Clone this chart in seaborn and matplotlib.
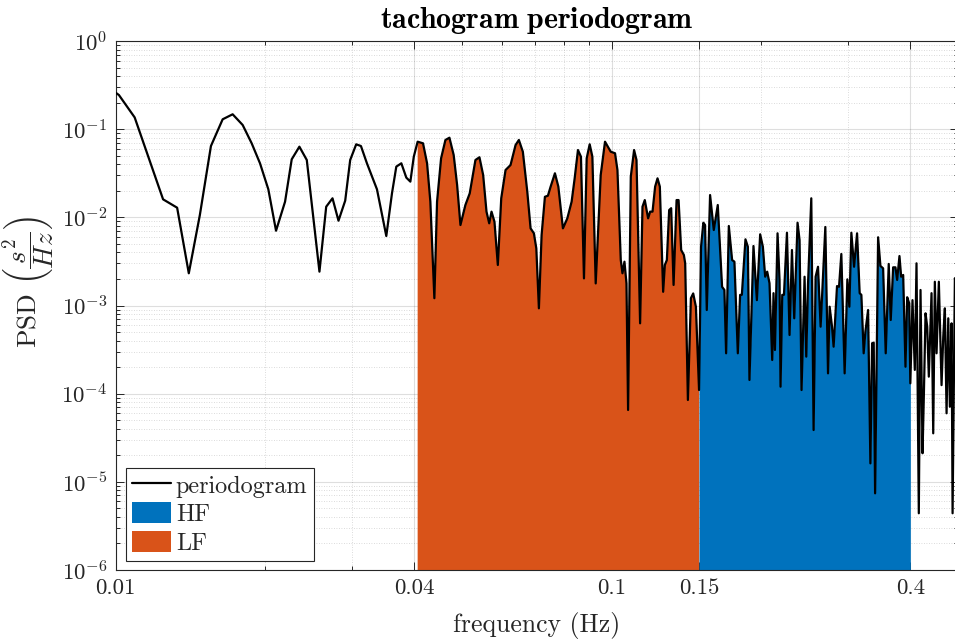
import numpy as np
import pandas as pd
import matplotlib
matplotlib.use("Agg")
import matplotlib.pyplot as plt
import seaborn as sns
from matplotlib.ticker import FixedLocator, FixedFormatter, NullFormatter, LogFormatterSciNotation

# ---------------- data ----------------
# very-low-frequency part (below LF band)
freq_low = [0.0100, 0.01015, 0.01092, 0.01246, 0.0133, 0.01404, 0.01478, 0.01556,
            0.01643, 0.01721, 0.01803, 0.0188, 0.01954, 0.02031, 0.02105, 0.02195,
            0.02264, 0.02346, 0.02428, 0.02575, 0.02657, 0.02736, 0.02813, 0.02902,
            0.0297, 0.03054, 0.03122, 0.0321, 0.03363, 0.03512, 0.03606, 0.03679,
            0.03766, 0.03854, 0.03927, 0.0399]
psd_low = [0.259, 0.244, 0.136, 0.0160, 0.01286, 0.00232, 0.01063, 0.0644,
           0.1294, 0.1475, 0.1115, 0.0691, 0.0410, 0.0208, 0.00705, 0.01504,
           0.0455, 0.0633, 0.0447, 0.00242, 0.0132, 0.01644, 0.00916, 0.01545,
           0.0447, 0.0673, 0.0644, 0.0410, 0.0208, 0.00614, 0.01875, 0.0376,
           0.0410, 0.0282, 0.0254, 0.0487]

# LF band part
freq_lf = [0.04062, 0.04165, 0.04244, 0.04309, 0.0439, 0.04445, 0.04529, 0.04621,
           0.04708, 0.04802, 0.04879, 0.04955, 0.0507, 0.05173, 0.05312, 0.05412,
           0.05506, 0.05592, 0.05663, 0.05724, 0.05803, 0.05894, 0.05988, 0.06109,
           0.06252, 0.0640, 0.06499, 0.0662, 0.06758, 0.06862, 0.06968, 0.07047,
           0.07132, 0.07222, 0.07334, 0.07437, 0.07531, 0.07683, 0.07806, 0.07974,
           0.08138, 0.08302, 0.0842, 0.0855, 0.0867, 0.08792, 0.08903, 0.09028,
           0.09142, 0.09284, 0.09502, 0.09694, 0.09955, 0.10156, 0.1027, 0.1043,
           0.10512, 0.1061, 0.1071, 0.1079, 0.10926, 0.11095, 0.1122, 0.11409,
           0.11536, 0.1166, 0.11841, 0.11952, 0.12086, 0.12233, 0.1237, 0.12504,
           0.12697, 0.12798, 0.12918, 0.13057, 0.13179, 0.13327, 0.13514, 0.1364,
           0.13806, 0.1398, 0.14065, 0.14243, 0.14443, 0.14598, 0.14782, 0.1500]
psd_lf = [0.0721, 0.0691, 0.0410, 0.01505, 0.00121, 0.01505, 0.0467, 0.0754,
          0.0800, 0.0509, 0.0233, 0.00818, 0.0138, 0.0187, 0.0447, 0.0480,
          0.0302, 0.0116, 0.00855, 0.0116, 0.00891, 0.00288, 0.01644, 0.0344,
          0.0392, 0.0661, 0.0754, 0.0555, 0.0195, 0.0075, 0.00659, 0.00445,
          0.000929, 0.0063, 0.0171, 0.0176, 0.0223, 0.0316, 0.0223, 0.0075,
          0.00974, 0.01505, 0.0277, 0.058, 0.0487, 0.00203, 0.0467, 0.0674,
          0.0487, 0.00178, 0.0302, 0.0721, 0.0555, 0.0533, 0.0344, 0.00328,
          0.00232, 0.00314, 0.00178, 0.0000653, 0.0289, 0.058, 0.0447, 0.000628,
          0.0132, 0.0157, 0.00974, 0.0116, 0.0116, 0.0223, 0.0277, 0.0223,
          0.00143, 0.00288, 0.00328, 0.0121, 0.0127, 0.00171, 0.0157, 0.0157,
          0.00426, 0.00374, 0.00301, 0.0000848, 0.00121, 0.00137, 0.000969, 0.00011]

# HF band part
freq_hf = [0.1514, 0.15303, 0.15425, 0.15548, 0.15788, 0.16062, 0.16362, 0.16693,
           0.16873, 0.17008, 0.17223, 0.17489, 0.17677, 0.17958, 0.18151, 0.18297,
           0.18606, 0.18815, 0.18955, 0.19311, 0.1962, 0.1992, 0.20173, 0.20391,
           0.20582, 0.20803, 0.21067, 0.21195, 0.21334, 0.21594, 0.21796, 0.21897,
           0.22071, 0.22247, 0.22559, 0.22833, 0.23089, 0.23334, 0.23696, 0.23918,
           0.24141, 0.2448, 0.24675, 0.24872, 0.25257, 0.25529, 0.25768, 0.26057,
           0.26376, 0.26958, 0.27296, 0.27502, 0.27807, 0.28016, 0.28462, 0.28728,
           0.29037, 0.29487, 0.29861, 0.3014, 0.3042, 0.30805, 0.31238, 0.31617,
           0.31868, 0.32211, 0.32468, 0.32877, 0.33231, 0.33495, 0.33745, 0.33965,
           0.34443, 0.34814, 0.35253, 0.35682, 0.36183, 0.36522, 0.36932, 0.3733,
           0.37626, 0.38031, 0.38333, 0.38693, 0.3911, 0.3942, 0.3979, 0.4000]
psd_hf = [0.00464, 0.00869, 0.00818, 0.000889, 0.0179, 0.00718, 0.0138, 0.00163,
          0.0015, 0.000287, 0.00798, 0.00328, 0.00314, 0.000287, 0.00132, 0.00132,
          0.00563, 0.00464, 0.000143, 0.00473, 0.00115, 0.00642, 0.00464, 0.00212,
          0.00242, 0.00179, 0.000241, 0.00138, 0.000313, 0.00659, 0.00195, 0.00012,
          0.00132, 0.00132, 0.00669, 0.000463, 0.00426, 0.000716, 0.00869, 0.00553,
          0.00011, 0.00212, 0.000263, 0.00171, 0.01644, 0.0000387, 0.00212, 0.00275,
          0.000575, 0.00777, 0.00017, 0.000969, 0.000575, 0.000341, 0.00166, 0.00163,
          0.00384, 0.00017, 0.00198, 0.000969, 0.00669, 0.00275, 0.00659, 0.00138,
          0.00132, 0.000287, 0.000505, 0.000889, 0.0000162, 0.000373, 0.000379, 0.00000741,
          0.00594, 0.00281, 0.00264, 0.000287, 0.00296, 0.000685, 0.00271, 0.00271,
          0.00195, 0.00364, 0.00212, 0.00222, 0.000202, 0.00124, 0.00106, 0.000131]

# above the HF band
freq_high = [0.40404, 0.40839, 0.41163, 0.41606, 0.41937, 0.4233, 0.42587, 0.42926,
             0.4326, 0.43584, 0.44136, 0.44486, 0.44819, 0.45176, 0.45662, 0.46239,
             0.46607, 0.46956, 0.47328, 0.47703, 0.48062, 0.48441, 0.48668, 0.49191,
             0.498]
psd_high = [0.00115, 0.000186, 0.00301, 0.0000044, 0.0015, 0.0000211, 0.0000924, 0.000816,
            0.000575, 0.000156, 0.00138, 0.0000355, 0.00186, 0.000287, 0.00186, 0.000125,
            0.000443, 0.000929, 0.0000599, 0.000716, 0.0000711, 0.000628, 0.0000044, 0.00204,
            0.00115]

lf_band = (0.04, 0.15)
hf_band = (0.15, 0.40)

x_ticks = [0.01, 0.04, 0.1, 0.15, 0.4]
x_tick_labels = ["0.01", "0.04", "0.1", "0.15", "0.4"]
x_minor_ticks = [0.02, 0.03, 0.05, 0.06, 0.07, 0.08, 0.09, 0.2, 0.3]
y_decades = [-6, -5, -4, -3, -2, -1, 0]

LF_COLOR = "#D95319"
HF_COLOR = "#0072BD"
AX_COLOR = "#262626"

# ---------------- styling ----------------
sns.set_style("ticks")
plt.rcParams["font.family"] = ["cmr10", "DejaVu Serif"]
plt.rcParams["mathtext.fontset"] = "cm"
plt.rcParams["axes.formatter.use_mathtext"] = True
plt.rcParams["axes.unicode_minus"] = False

freq = np.concatenate([freq_low, freq_lf, freq_hf, freq_high])
psd = np.concatenate([psd_low, psd_lf, psd_hf, psd_high])
df = pd.DataFrame({"frequency": freq, "psd": psd})

lf_mask = (freq >= lf_band[0]) & (freq <= lf_band[1])
hf_mask = (freq >= hf_band[0]) & (freq <= hf_band[1])

W, H = 955, 641
fig = plt.figure(figsize=(W / 100, H / 100), dpi=100)
ax = fig.add_axes([115.7 / W, 71 / H, 842.7 / W, 529 / H])

hf_poly = ax.fill_between(freq[hf_mask], 1e-9, psd[hf_mask], color=HF_COLOR,
                          linewidth=0, zorder=1.5)
lf_poly = ax.fill_between(freq[lf_mask], 1e-9, psd[lf_mask], color=LF_COLOR,
                          linewidth=0, zorder=1.5)
sns.lineplot(data=df, x="frequency", y="psd", ax=ax, color="black", linewidth=1.6,
             estimator=None, sort=False, zorder=3, label="periodogram", legend=False)

ax.set_xscale("log")
ax.set_yscale("log")
ax.set_xlim(0.01, 0.5)
ax.set_ylim(1e-6, 1)

ax.xaxis.set_major_locator(FixedLocator(x_ticks))
ax.xaxis.set_major_formatter(FixedFormatter(x_tick_labels))
ax.xaxis.set_minor_locator(FixedLocator(x_minor_ticks))
ax.xaxis.set_minor_formatter(NullFormatter())

y_major = [10.0 ** e for e in y_decades]
y_minor = [m * 10.0 ** e for e in y_decades[:-1] for m in range(2, 10)]
ax.yaxis.set_major_locator(FixedLocator(y_major))
ax.yaxis.set_major_formatter(LogFormatterSciNotation())
ax.yaxis.set_minor_locator(FixedLocator(y_minor))
ax.yaxis.set_minor_formatter(NullFormatter())

ax.set_axisbelow(True)
ax.grid(True, which="major", color=AX_COLOR, alpha=0.15, linewidth=0.8, linestyle="-")
ax.grid(True, which="minor", color=AX_COLOR, alpha=0.22, linewidth=0.6, linestyle=(0, (1, 2)))

ax.tick_params(which="both", direction="in", top=True, right=True, colors=AX_COLOR,
               labelsize=16.5, width=0.7)
ax.tick_params(which="major", length=6, pad=6)
ax.tick_params(which="minor", length=3)
for s in ax.spines.values():
    s.set_color(AX_COLOR)
    s.set_linewidth(0.8)

ax.set_xlabel("frequency (Hz)", fontsize=18.5, color=AX_COLOR, labelpad=10)
ax.set_ylabel(r"PSD $\left(\dfrac{s^2}{Hz}\right)$", fontsize=19.5, color=AX_COLOR)
ax.yaxis.set_label_coords(-0.068, 0.545)
ax.set_title(r"$\mathbf{tachogram\ periodogram}$", fontsize=21.5, color="black", pad=9)

line = ax.lines[0]
leg = ax.legend([line, hf_poly, lf_poly], ["periodogram", "HF", "LF"],
                loc="lower left", bbox_to_anchor=(0.0122, 0.0176), borderaxespad=0,
                fontsize=17.5, frameon=True, fancybox=False, edgecolor=AX_COLOR,
                framealpha=1, handlelength=1.6, handleheight=0.93, handletextpad=0.2,
                labelspacing=0.2, borderpad=0.25)
leg.get_frame().set_linewidth(0.8)

fig.savefig("out.png", dpi=100)
